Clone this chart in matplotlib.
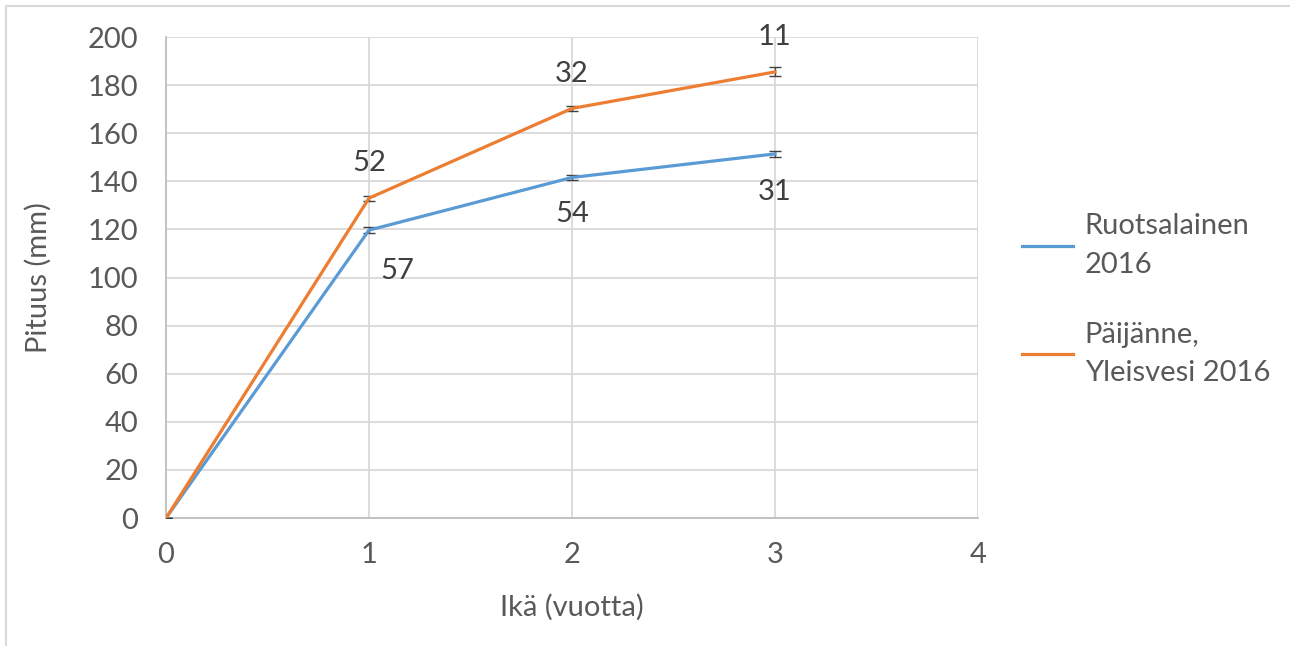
import matplotlib.pyplot as plt
from matplotlib.patches import Rectangle
from matplotlib.lines import Line2D

plt.rcParams['font.family'] = ['Lato', 'DejaVu Sans']

ika = [0, 1, 2, 3]

ruots_nimi = "Ruotsalainen\n2016"
ruots_pituus = [0, 119.7, 141.6, 151.4]
ruots_virhe = [0, 1.2, 1.0, 1.2]
ruots_n = [None, "57", "54", "31"]

paij_nimi = "Päijänne,\nYleisvesi 2016"
paij_pituus = [0, 133.0, 170.3, 185.5]
paij_virhe = [0, 1.0, 1.1, 1.9]
paij_n = [None, "52", "32", "11"]

BLUE = "#5B9BD5"
ORANGE = "#ED7D31"
TXT = "#595959"
GRID = "#D9D9D9"
FS = 21

fig = plt.figure(figsize=(12.9, 6.46), dpi=100)
ax = fig.add_axes([0.1287, 0.1981, 0.6294, 0.7446])

# outer chart border (only top/left visible in the crop)
fig.patches.append(Rectangle((6 / 1290, -0.1), 1.2, 1.1 - 6 / 646,
                             transform=fig.transFigure, fill=False,
                             edgecolor=GRID, linewidth=1.5))

ax.errorbar(ika, ruots_pituus, yerr=ruots_virhe, color=BLUE, lw=2.3,
            ecolor="#404040", elinewidth=1, capsize=4, capthick=1, zorder=3)
ax.errorbar(ika, paij_pituus, yerr=paij_virhe, color=ORANGE, lw=2.3,
            ecolor="#404040", elinewidth=1, capsize=4, capthick=1, zorder=3)

# sample counts
for i, (x, y) in enumerate(zip(ika, ruots_pituus)):
    if ruots_n[i] is None:
        continue
    dx = 0.14 if i == 1 else 0
    dy = -17 if i == 1 else (-15 if i == 2 else -16)
    ax.text(x + dx, y + dy, ruots_n[i], ha="center", va="center",
            fontsize=FS, color="#404040")
for i, (x, y) in enumerate(zip(ika, paij_pituus)):
    if paij_n[i] is None:
        continue
    ax.text(x, y + 14.5, paij_n[i], ha="center", va="center",
            fontsize=FS, color="#404040")

ax.set_xlim(0, 4)
ax.set_ylim(0, 200)
ax.set_xticks(range(0, 5))
ax.set_yticks(range(0, 201, 20))
ax.tick_params(axis="y", length=0, labelsize=FS, labelcolor=TXT, pad=20)
ax.tick_params(axis="x", length=0, labelsize=FS, labelcolor=TXT, pad=17)
ax.grid(True, color=GRID, lw=1.3)
ax.set_axisbelow(True)
for s in ["top", "right"]:
    ax.spines[s].set_visible(False)
for s in ["left", "bottom"]:
    ax.spines[s].set_color("#BFBFBF")
    ax.spines[s].set_linewidth(1.3)

ax.set_xlabel("Ikä (vuotta)", fontsize=FS, color=TXT, labelpad=19)
ax.set_ylabel("Pituus (mm)", fontsize=FS, color=TXT, labelpad=26)

handles = [Line2D([], [], color=BLUE, lw=2.3),
           Line2D([], [], color=ORANGE, lw=2.3)]
leg = fig.legend(handles, [ruots_nimi, paij_nimi], loc="center left",
                 bbox_to_anchor=(0.772, 0.536), frameon=False, fontsize=FS,
                 labelcolor=TXT, handlelength=1.75, labelspacing=1.5,
                 handletextpad=0.4)
for t in leg.get_texts():
    t.set_linespacing(1.6)

fig.savefig("out.png", dpi=100)
